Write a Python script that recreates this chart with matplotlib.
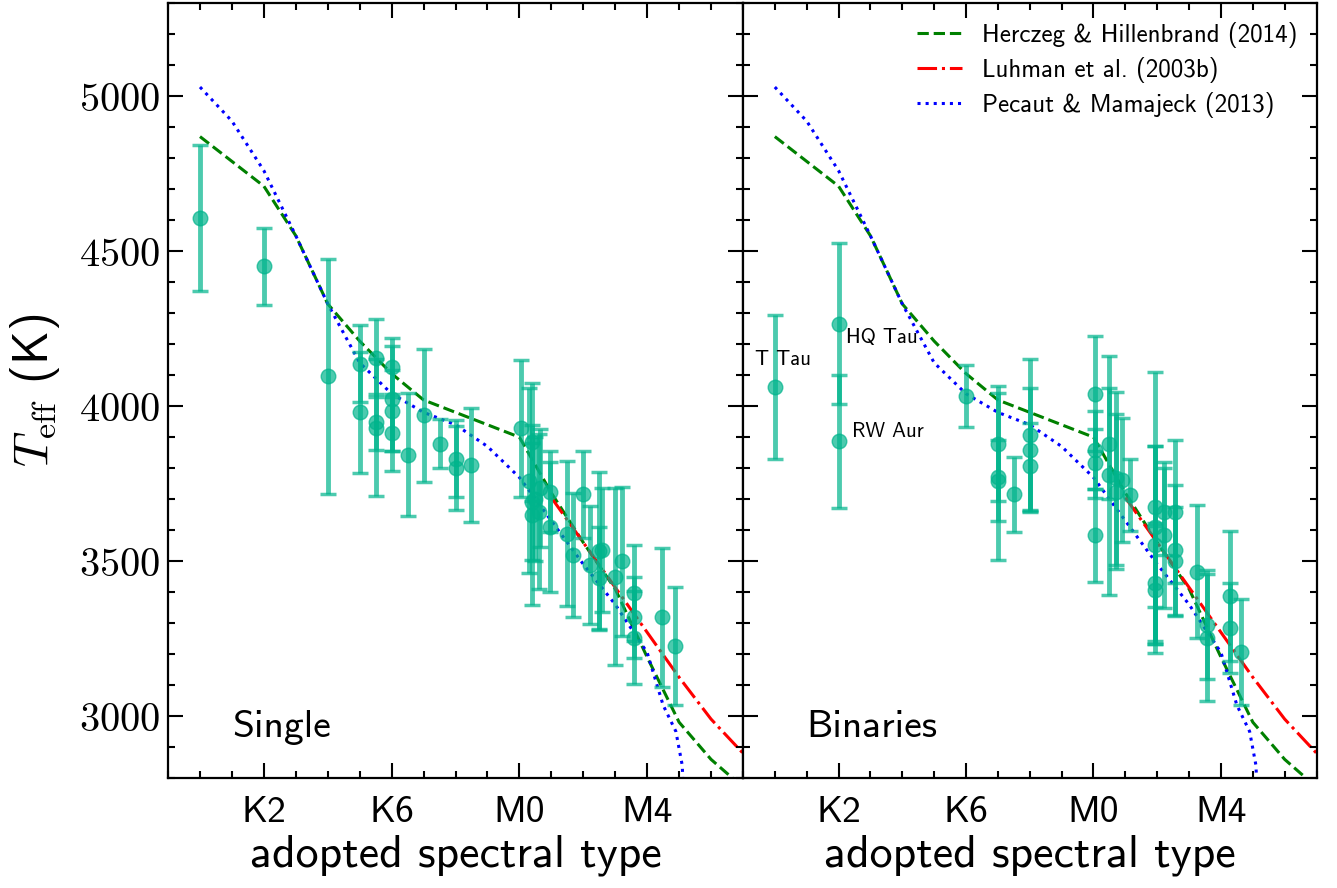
import matplotlib
matplotlib.use("Agg")
import matplotlib.pyplot as plt
from matplotlib.ticker import MultipleLocator, FixedLocator, FuncFormatter
import numpy as np

plt.rcParams['font.family'] = 'cmss10'
plt.rcParams['mathtext.fontset'] = 'cm'
plt.rcParams['axes.unicode_minus'] = False

# spectral type scale: K0=0 ... K7=7, M0=10, M4=14
tick_pos = [2, 6, 10, 14]
tick_labels = ['K2', 'K6', 'M0', 'M4']

# Herczeg & Hillenbrand (2014)
hh_spt = [0, 1, 2, 3, 4, 5, 6, 7, 10, 11, 12, 13, 14, 14.5, 15, 16, 17]
hh_teff = [4870, 4790, 4710, 4550, 4330, 4210, 4105, 4020, 3900, 3720, 3560,
           3410, 3190, 3085, 2980, 2860, 2770]

# Luhman et al. (2003b)
lu_spt = [11, 12, 13, 14, 15, 16, 17]
lu_teff = [3705, 3560, 3415, 3270, 3125, 2990, 2880]

# Pecaut & Mamajek (2013)
pm_spt = [0, 1, 2, 3, 4, 5, 6, 7, 8, 9, 10, 11, 12, 13, 14, 14.5, 14.9,
          15.1, 15.15]
pm_teff = [5030, 4920, 4760, 4550, 4330, 4140, 4040, 3980, 3940, 3870, 3770,
           3630, 3490, 3360, 3205, 3035, 2950, 2840, 2700]

# single stars
s_spt = [0, 2, 4, 5, 5, 5.5, 5.5, 5.5, 6, 6, 6, 6, 6.5, 7, 7.5, 8, 8, 8.5,
         10.05, 10.4, 10.4, 10.4, 10.3, 10.5, 10.66, 10.6, 10.97, 10.97,
         11.5, 11.67, 11.98, 12.2, 12.5, 12.5, 12.6, 13.0, 13.2, 13.6, 13.6,
         13.6, 14.48, 14.88]
s_teff = [4607, 4451, 4096, 4137, 3980, 4156, 3949, 3931, 4126, 4024, 3986,
          3915, 3844, 3971, 3879, 3831, 3801, 3810,
          3928, 3885, 3692, 3648, 3760, 3700, 3735, 3660, 3724, 3611,
          3589, 3519, 3715, 3487, 3531, 3445, 3536, 3450, 3499, 3397, 3318,
          3252, 3318, 3225]
s_err = [235, 125, 380, 125, 195, 126, 90, 220, 95, 170, 130, 125, 200, 215,
         80, 125, 135, 183,
         220, 190, 190, 290, 300, 200, 190, 250, 130, 210,
         235, 200, 140, 190, 255, 165, 200, 285, 240, 155, 130, 150, 225, 190]

# binaries
b_spt = [0, 2, 2, 6, 7, 7, 7, 7.5, 8, 8, 8,
         10.04, 10.04, 10.04, 10.04, 10.5, 10.5, 10.7, 10.7, 10.9, 11.15,
         11.94, 11.94, 11.94, 11.94, 11.94, 12.2, 12.2, 12.57, 12.57, 12.57,
         13.25, 13.55, 13.55, 14.28, 14.28, 14.62]
b_teff = [4062, 4266, 3887, 4033, 3879, 3772, 3760, 3715, 3906, 3858, 3806,
          4040, 3858, 3815, 3584, 3879, 3777, 3767, 3724, 3762, 3713,
          3676, 3611, 3552, 3429, 3408, 3660, 3585, 3660, 3536, 3499,
          3466, 3295, 3252, 3386, 3284, 3207]
b_err = [233, 260, 215, 100, 185, 270, 130, 120, 245, 200, 140,
         185, 125, 110, 150, 180, 385, 280, 250, 200, 115,
         435, 260, 320, 195, 205, 140, 235, 230, 210, 175,
         215, 175, 205, 210, 145, 170]

labels = [(-0.62, 4150, 'T Tau'), (2.22, 4222, 'HQ Tau'), (2.41, 3918, 'RW Aur')]

fig = plt.figure(figsize=(13.37, 8.88), dpi=100)
ax1 = fig.add_axes([0.1257, 0.1239, 0.4300, 0.8723])
ax2 = fig.add_axes([0.5557, 0.1239, 0.4290, 0.8723], sharey=ax1)

pt_col = '#00b48c'
for ax, spt, teff, err, name in [(ax1, s_spt, s_teff, s_err, 'Single'),
                                 (ax2, b_spt, b_teff, b_err, 'Binaries')]:
    ax.plot(hh_spt, hh_teff, '--', color='green', lw=2.2,
            label='Herczeg & Hillenbrand (2014)', zorder=1)
    ax.plot(lu_spt, lu_teff, '-.', color='red', lw=2.2,
            label='Luhman et al. (2003b)', zorder=1)
    ax.plot(pm_spt, pm_teff, ':', color='blue', lw=2.2,
            label='Pecaut & Mamajeck (2013)', zorder=1)
    ax.errorbar(spt, teff, yerr=err, fmt='o', color=pt_col, alpha=0.7,
                ms=10.5, elinewidth=3.5, capsize=6, capthick=2.5, zorder=3)
    ax.text(0.111, 0.053, name, transform=ax.transAxes, fontsize=28.5)
    ax.set_xlim(-1, 17)
    ax.set_ylim(2800, 5300)
    ax.xaxis.set_major_locator(FixedLocator(tick_pos))
    ax.set_xticklabels(tick_labels)
    ax.xaxis.set_minor_locator(MultipleLocator(1))
    ax.yaxis.set_major_locator(MultipleLocator(500))
    ax.yaxis.set_minor_locator(MultipleLocator(100))
    ax.tick_params(which='both', direction='in', top=True, right=True,
                   width=1.5, labelsize=27)
    ax.tick_params(which='major', length=11)
    ax.tick_params(which='minor', length=5)
    ax.tick_params(axis='x', pad=13)
    for sp in ax.spines.values():
        sp.set_linewidth(1.6)
    ax.set_xlabel('adopted spectral type', fontsize=33, labelpad=4)

ax1.yaxis.set_major_formatter(FuncFormatter(lambda v, p: r'$%d$' % v))
ax1.tick_params(axis='y', labelsize=29, pad=6)
ax2.tick_params(axis='y', labelleft=False)
ax1.set_ylabel(r'$T_{\rm eff}$ (K)', fontsize=35, labelpad=12)

for x, y, t in labels:
    ax2.text(x, y, t, fontsize=15, va='center')

ax2.legend(loc='upper right', frameon=False, fontsize=18, handlelength=1.8,
           handletextpad=0.8, borderaxespad=0.35, labelspacing=0.35)

fig.savefig('out.png', dpi=100)
